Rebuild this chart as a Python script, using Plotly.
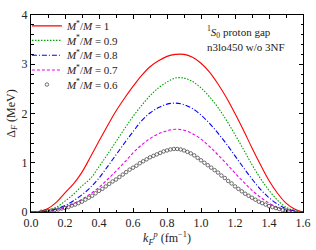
import plotly.graph_objects as go

# k_F^p grid for the line curves (fm^-1)
k_lines = [0.00, 0.05, 0.10, 0.15, 0.20, 0.25, 0.30, 0.35, 0.40, 0.45, 0.50,
           0.55, 0.60, 0.65, 0.70, 0.75, 0.80, 0.85, 0.90, 0.95, 1.00, 1.05,
           1.10, 1.15, 1.20, 1.25, 1.30, 1.35, 1.40, 1.45, 1.50, 1.55, 1.60]

gap_10 = [0.00, 0.01, 0.07, 0.20, 0.39, 0.57, 0.81, 1.12, 1.44, 1.75, 2.05,
          2.31, 2.55, 2.77, 2.95, 3.07, 3.16, 3.20, 3.20, 3.14, 3.02, 2.84,
          2.60, 2.32, 2.00, 1.66, 1.30, 0.96, 0.64, 0.38, 0.18, 0.06, 0.00]

gap_09 = [0.00, 0.00, 0.03, 0.10, 0.22, 0.36, 0.53, 0.68, 0.92, 1.17, 1.43,
          1.69, 1.94, 2.16, 2.36, 2.52, 2.64, 2.72, 2.72, 2.65, 2.52, 2.34,
          2.12, 1.86, 1.57, 1.27, 0.96, 0.68, 0.44, 0.24, 0.10, 0.03, 0.00]

gap_08 = [0.00, 0.00, 0.02, 0.06, 0.13, 0.23, 0.35, 0.50, 0.69, 0.92, 1.16,
          1.40, 1.63, 1.85, 2.01, 2.12, 2.19, 2.21, 2.18, 2.10, 1.97, 1.80,
          1.60, 1.38, 1.14, 0.90, 0.67, 0.46, 0.29, 0.16, 0.07, 0.02, 0.00]

gap_07 = [0.00, 0.00, 0.01, 0.04, 0.09, 0.17, 0.26, 0.37, 0.50, 0.66, 0.83,
          1.01, 1.20, 1.36, 1.49, 1.59, 1.65, 1.68, 1.66, 1.59, 1.48, 1.33,
          1.16, 0.98, 0.79, 0.61, 0.44, 0.30, 0.18, 0.09, 0.04, 0.01, 0.00]

# denser grid for the circle-marker curve
k_circ = [0.06, 0.08, 0.10, 0.12, 0.14, 0.16, 0.18, 0.20, 0.22, 0.24, 0.26,
          0.28, 0.30, 0.32, 0.34, 0.36, 0.38, 0.40, 0.42, 0.44, 0.46, 0.48,
          0.50, 0.52, 0.54, 0.56, 0.58, 0.60, 0.62, 0.64, 0.66, 0.68, 0.70,
          0.72, 0.74, 0.76, 0.78, 0.80, 0.82, 0.84, 0.86, 0.88, 0.90, 0.92,
          0.94, 0.96, 0.98, 1.00, 1.02, 1.04, 1.06, 1.08, 1.10, 1.12, 1.14,
          1.16, 1.18, 1.20, 1.22, 1.24, 1.26, 1.28, 1.30, 1.32, 1.34, 1.36,
          1.38, 1.40, 1.42, 1.44, 1.46, 1.48, 1.50, 1.52, 1.54]
gap_06 = [0.005, 0.01, 0.02, 0.03, 0.04, 0.05, 0.07, 0.08, 0.10, 0.13, 0.15,
          0.18, 0.21, 0.25, 0.29, 0.33, 0.38, 0.43, 0.47, 0.52, 0.57, 0.62,
          0.66, 0.71, 0.76, 0.81, 0.86, 0.90, 0.94, 0.99, 1.03, 1.07, 1.11,
          1.14, 1.17, 1.20, 1.23, 1.25, 1.27, 1.28, 1.28, 1.27, 1.25, 1.22,
          1.19, 1.15, 1.10, 1.05, 1.00, 0.95, 0.90, 0.85, 0.80, 0.74, 0.69,
          0.63, 0.58, 0.52, 0.47, 0.42, 0.37, 0.33, 0.29, 0.25, 0.21, 0.18,
          0.15, 0.12, 0.10, 0.08, 0.06, 0.04, 0.03, 0.02, 0.01]

names = ["<i>M</i><sup>*</sup>/<i>M</i> = 1",
         "<i>M</i><sup>*</sup>/<i>M</i> = 0.9",
         "<i>M</i><sup>*</sup>/<i>M</i> = 0.8",
         "<i>M</i><sup>*</sup>/<i>M</i> = 0.7",
         "<i>M</i><sup>*</sup>/<i>M</i> = 0.6"]

FONT = "Liberation Serif, DejaVu Serif, serif"
TXT = "#222222"
legend_ids = ["legend", "legend2", "legend3", "legend4", "legend5"]

fig = go.Figure()
line_series = [(gap_10, "#ff0000", "solid"),
               (gap_09, "#00a000", "1.5px,1.5px"),
               (gap_08, "#0000ff", "5px,2px,1px,2px"),
               (gap_07, "#ee00ee", "3px,2px")]
for (vals, col, dash), nm, lg in zip(line_series, names[:4], legend_ids[:4]):
    fig.add_trace(go.Scatter(x=k_lines, y=vals, mode="lines", name=nm, legend=lg,
                             line=dict(color=col, width=1.1, dash=dash,
                                       shape="spline", smoothing=1)))
fig.add_trace(go.Scatter(x=k_circ, y=gap_06, mode="markers", name=names[4],
                         legend=legend_ids[4],
                         marker=dict(symbol="circle-open", size=3.5,
                                     color="#333333", line=dict(width=0.7))))

axis_common = dict(showline=True, linecolor="black", linewidth=1, mirror="ticks",
                   ticks="inside", ticklen=4, tickwidth=0.8, tickcolor="black",
                   showgrid=False, zeroline=False, automargin=False,
                   tickfont=dict(family=FONT, size=12, color=TXT))

fig.update_xaxes(range=[0, 1.6], dtick=0.2, tick0=0, tickformat=".1f",
                 minor=dict(dtick=0.1, ticks="inside", ticklen=2.5,
                            tickcolor="black", tickwidth=0.8),
                 title=dict(text="<i>k</i><sub><i>F</i></sub><sup><i>p</i></sup> (fm<sup>−1</sup>)",
                            font=dict(family=FONT, size=12, color=TXT),
                            standoff=0),
                 **axis_common)
fig.update_yaxes(range=[0, 4], dtick=1, tick0=0,
                 minor=dict(dtick=0.2, ticks="inside", ticklen=2.5,
                            tickcolor="black", tickwidth=0.8),
                 title=dict(text="Δ<sub><i>F</i></sub> (MeV)",
                            font=dict(family=FONT, size=12, color=TXT),
                            standoff=3),
                 **axis_common)

fig.add_annotation(xref="paper", yref="paper", x=0.64, y=0.912,
                   xanchor="left", yanchor="middle", showarrow=False,
                   text="<sup>1</sup><i>S</i><sub>0</sub> proton gap",
                   font=dict(family=FONT, size=11, color=TXT))
fig.add_annotation(xref="paper", yref="paper", x=0.64, y=0.84,
                   xanchor="left", yanchor="middle", showarrow=False,
                   text="n3lo450 w/o 3NF",
                   font=dict(family=FONT, size=11, color=TXT))

legend_y = [0.945, 0.871, 0.796, 0.721, 0.647]
layout_legends = {}
for lg, yy in zip(legend_ids, legend_y):
    layout_legends[lg] = dict(x=-0.015, y=yy, xanchor="left", yanchor="middle",
                              bgcolor="rgba(0,0,0,0)",
                              font=dict(family=FONT, size=11, color=TXT),
                              itemwidth=30)

fig.update_layout(width=316, height=250,
                  margin=dict(l=31, r=13, t=11, b=38),
                  paper_bgcolor="white", plot_bgcolor="white",
                  showlegend=True, **layout_legends)

fig.write_html("out.html", config={"displayModeBar": False},
               post_script="document.body.style.margin='0';document.body.style.overflow='hidden';")
